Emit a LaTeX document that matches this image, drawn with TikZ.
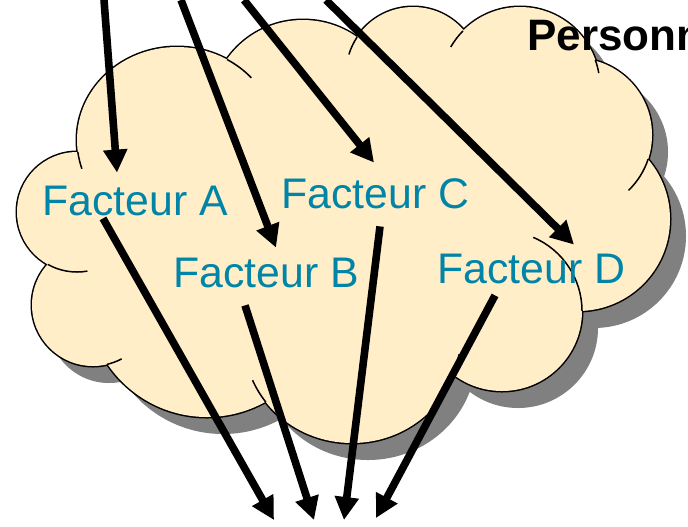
\documentclass[tikz,border=0pt]{standalone}
\usepackage{fontspec}
\setmainfont{Liberation Sans}
\usetikzlibrary{arrows.meta}

\definecolor{cloudfill}{RGB}{255,238,200}
\definecolor{cloudshade}{RGB}{128,128,128}
\definecolor{factorblue}{RGB}{0,133,168}

\begin{document}
\begin{tikzpicture}[x=0.5pt,y=-0.5pt,
        >={Triangle[length=11.5pt,width=11.5pt]},
        flow/.style={->,line width=3.8pt},
        factor/.style={anchor=base west,inner sep=0pt,text height=15pt,text depth=0pt,
            text=factorblue,font=\fontsize{21.4}{25}\selectfont}]

  \useasboundingbox (0,0) rectangle (688,526);
  \clip (0,0) rectangle (688,526);

  \def\bumps{177/140/100/93, 303/110/92/90, 413/74/67/67, 520/87/80/80,
    575/135/77/77, 578/219/92/92, 502/311/80/80, 352/340/108/103,
    207/297/120/120, 93/305/61/61, 77/212/60/60}
  \def\core{(78,152) -- (227,59) -- (357,37) -- (463,31) -- (595,60) -- (648,159)
    -- (582,310) -- (454,375) -- (266,402) -- (107,364) -- (48,264) -- cycle}

  \begin{scope}[shift={(16,17)}]
    \foreach \cx/\cy/\rx/\ry in \bumps
      \fill[cloudshade] (\cx,\cy) ellipse [x radius=\rx, y radius=\ry];
    \fill[cloudshade] \core;
  \end{scope}

  \foreach \cx/\cy/\rx/\ry in \bumps
    \draw[line width=1.5pt] (\cx,\cy) ellipse [x radius=\rx, y radius=\ry];
  \foreach \cx/\cy/\rx/\ry in \bumps
    \fill[cloudfill] (\cx,\cy) ellipse [x radius=\rx, y radius=\ry];
  \fill[cloudfill] \core;

  \foreach \cx/\cy/\rx/\ry/\ta/\tb in {177/140/100/93/172.6/162, 177/140/100/93/300/318,
      413/74/67/67/213.5/197, 520/87/80/80/224.5/210, 520/87/80/80/340.2/350,
      575/135/77/77/18.2/46, 502/311/80/80/0/-67, 352/340/108/103/19.8/8,
      352/340/108/103/142.9/157, 93/305/61/61/76.7/62, 77/212/60/60/119.1/80}
    \draw[line width=0.75pt] (\cx,\cy) ++({\rx*cos(\ta)},{\ry*sin(\ta)})
      arc [start angle=\ta, end angle=\tb, x radius=\rx, y radius=\ry];

  \node[factor] (facA) at (42,215) {Facteur A};
  \node[factor] (facB) at (173,287) {Facteur B};
  \node[factor] (facC) at (281,208) {Facteur C};
  \node[factor] (facD) at (437,283) {Facteur D};
  \node[anchor=base west,inner sep=0pt,font=\fontsize{22}{26}\selectfont\bfseries]
    (staff) at (527,50) {Personnel};

  \coordinate (inA) at (104,0);
  \coordinate (inB) at (181,0);
  \coordinate (inC) at (244,0);
  \coordinate (inD) at (326,0);
  \coordinate (outA) at (274,520);
  \coordinate (outB) at (314,520);
  \coordinate (outC) at (344,520);
  \coordinate (outD) at (376,518);

  \draw[flow] (inA) -- ([shift={(75,-12)}]facA.north west);
  \draw[flow] (inB) -- ([shift={(103,-9)}]facB.north west);
  \draw[flow] (inC) -- ([shift={(93,-15)}]facC.north west);
  \draw[flow] (inD) -- ([shift={(137,-8)}]facD.north west);

  \draw[flow] ([shift={(61,3)}]facA.south west) -- (outA);
  \draw[flow] ([shift={(72,18)}]facB.south west) -- (outB);
  \draw[flow] ([shift={(99,18)}]facC.south west) -- (outC);
  \draw[flow] ([shift={(58,12)}]facD.south west) -- (outD);

\end{tikzpicture}
\end{document}
